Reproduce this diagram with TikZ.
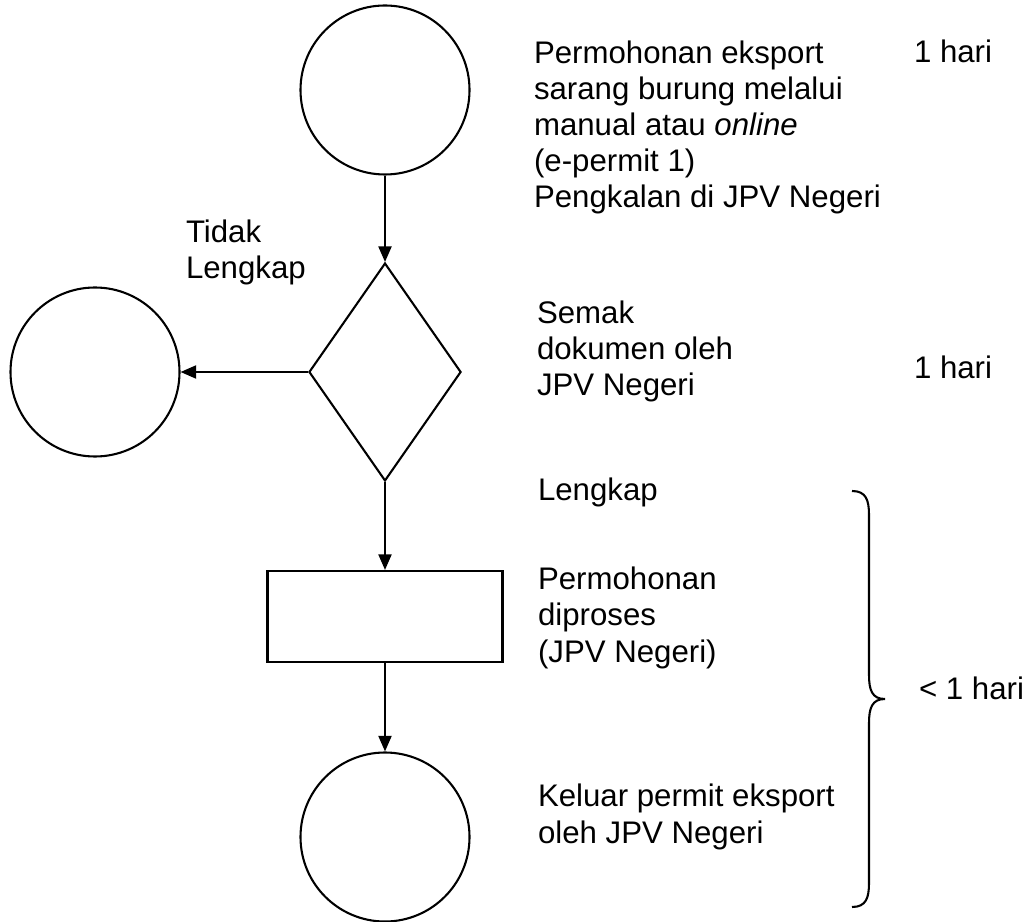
\documentclass[tikz,border=0pt]{standalone}
\usepackage{fontspec}
\setmainfont{Liberation Sans}
\usepackage{tikz}
\usetikzlibrary{shapes,arrows.meta,positioning,calc}

\begin{document}
\begin{tikzpicture}[x=0.3846pt, y=-0.3846pt,
    line width=0.8pt,
    bulat/.style={draw, circle, minimum size=65pt, inner sep=0pt},
    semakbox/.style={draw, diamond, minimum width=58.5pt, minimum height=83.8pt, inner sep=0pt},
    kotak/.style={draw, rectangle, minimum width=90.4pt, minimum height=35pt, inner sep=0pt},
    teks/.style={anchor=base west, inner sep=0pt, align=left, font=\fontsize{12pt}{13.85pt}\selectfont},
    panah/.style={-{Triangle[length=6pt, width=5pt]}}]
    \useasboundingbox (0,0) rectangle (1029,922);

    \node[bulat] (mohon) at (385,90) {};
    \node[semakbox] (semak) at (385,372) {};
    \node[bulat] (tolak) at (95,372) {};
    \node[kotak] (proses) at (385,616.5) {};
    \node[bulat] (keluar) at (385,837) {};

    \draw[panah] (mohon) -- (semak);
    \draw[panah] (semak) -- (tolak);
    \draw[panah] (semak) -- (proses);
    \draw[panah] (proses) -- (keluar);

    \draw (852,491) .. controls (866,491) and (869,500) .. (869,515) -- (869,675)
        .. controls (869,690) and (872,699) .. (885,699)
        .. controls (872,699) and (869,708) .. (869,723) -- (869,883)
        .. controls (869,898) and (866,907) .. (852,907);

    \node[teks] (t1) at (533,208) {Permohonan eksport\\sarang burung melalui\\manual atau \textit{online}\\(e-permit 1)\\Pengkalan di JPV Negeri};
    \node[teks] (h1) at (913,63) {1 hari};
    \node[teks] (tidak) at (185,279) {Tidak\\Lengkap};
    \node[teks] (t2) at (536,396) {Semak\\dokumen oleh\\JPV Negeri};
    \node[teks] (h2) at (913,379) {1 hari};
    \node[teks] (lengkap) at (537,501) {Lengkap};
    \node[teks] (t3) at (537,662) {Permohonan\\diproses\\(JPV Negeri)};
    \node[teks] (h3) at (918,699) {< 1 hari};
    \node[teks] (t4) at (537,843) {Keluar permit eksport\\oleh JPV Negeri};
\end{tikzpicture}
\end{document}
